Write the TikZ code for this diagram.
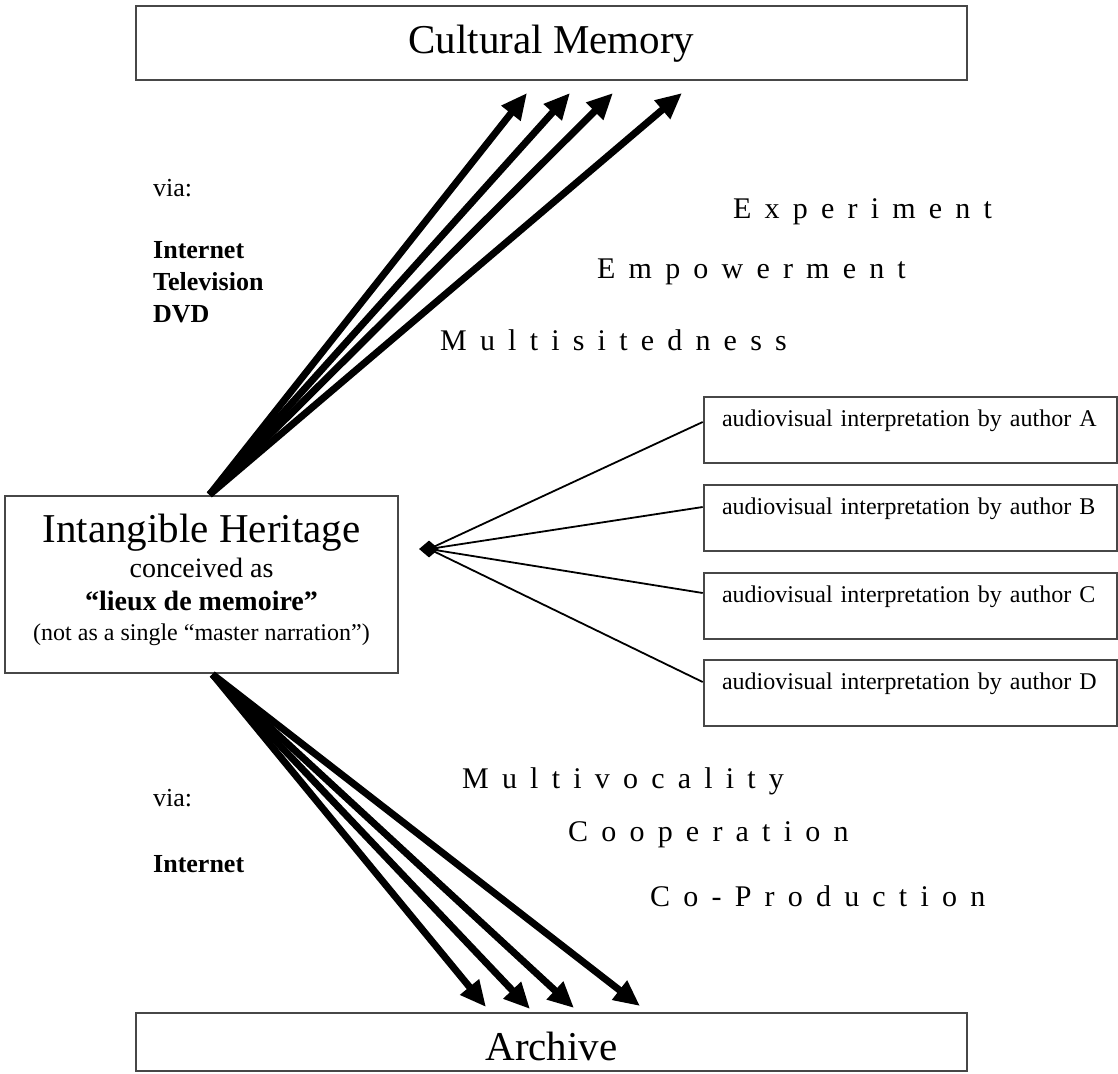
\documentclass[tikz,border=0pt]{standalone}
\usepackage{fontspec}
\setmainfont{Liberation Serif}
\newfontfamily\spacedfont[LetterSpace=44]{Liberation Serif}
\usetikzlibrary{arrows.meta,shapes.geometric}
\begin{document}
\begin{tikzpicture}[x=1pt,y=-1pt,
  box/.style={draw=black!72, line width=2.6pt, inner sep=0pt},
  fat/.style={line width=7pt, -{Triangle[length=26pt,width=23pt]}},
  thinline/.style={line width=1.8pt},
  spaced/.style={anchor=base west, inner sep=0pt, font=\spacedfont\fontsize{30}{36}\selectfont},
  plain/.style={anchor=base west, inner sep=0pt, font=\fontsize{26}{30}\selectfont},
  boldlbl/.style={anchor=base west, inner sep=0pt, font=\bfseries\fontsize{26}{30}\selectfont},
  auth/.style={box, minimum width=413pt, minimum height=66pt, text width=377pt, align=left,
    inner xsep=18pt, inner ysep=0pt, text height=14pt, text depth=22pt, font=\fontsize{24}{28}\selectfont},
  ctr/.style={anchor=base, inner sep=0pt}
  ]
\useasboundingbox (0,0) rectangle (1118,1073);

% main boxes
\node[box, minimum width=831pt, minimum height=74pt, text height=30pt, text depth=10pt,
  font=\fontsize{41}{48}\selectfont] (cm) at (551.5,43) {Cultural Memory};
\node[box, minimum width=831pt, minimum height=58pt, text height=38pt, text depth=2pt,
  font=\fontsize{41}{48}\selectfont] (ar) at (551.5,1042) {Archive};

\node[box, minimum width=393pt, minimum height=177pt] (ih) at (201.5,584.5) {};
\node[ctr, font=\fontsize{41}{48}\selectfont] (ih1) at (201.5,542) {Intangible Heritage};
\node[ctr, font=\fontsize{28}{32}\selectfont] (ih2) at (201.5,577) {conceived as};
\node[ctr, font=\bfseries\fontsize{28}{32}\selectfont] (ih3) at (201.5,610) {“lieux de memoire”};
\node[ctr, font=\fontsize{24}{28}\selectfont] (ih4) at (201.5,640) {(not as a single “master narration”)};

% author boxes
\node[auth] (a) at (910.5,430) {audiovisual interpretation by author A};
\node[auth] (b) at (910.5,518) {audiovisual interpretation by author B};
\node[auth] (c) at (910.5,606) {audiovisual interpretation by author C};
\node[auth] (d) at (910.5,693) {audiovisual interpretation by author D};

\node[diamond, fill=black, minimum width=20pt, minimum height=17pt, inner sep=0pt] (hub) at (429,549) {};
\draw[thinline] ([yshift=8pt]a.west) -- (hub.center);
\draw[thinline] ([yshift=11pt]b.west) -- (hub.center);
\draw[thinline] ([yshift=13pt]c.west) -- (hub.center);
\draw[thinline] ([yshift=11pt]d.west) -- (hub.center);

% arrow end points
\coordinate (t1) at (527,93);
\coordinate (t2) at (570,93);
\coordinate (t3) at (613,93);
\coordinate (t4) at (682,93);
\coordinate (b1) at (486,1007);
\coordinate (b2) at (530,1009);
\coordinate (b3) at (574,1008);
\coordinate (b4) at (640,1006);

\draw[fat] ([xshift=8pt]ih.north) -- (t1);
\draw[fat] ([xshift=8pt]ih.north) -- (t2);
\draw[fat] ([xshift=8pt]ih.north) -- (t3);
\draw[fat] ([xshift=8pt]ih.north) -- (t4);
\draw[fat] ([xshift=11pt]ih.south) -- (b1);
\draw[fat] ([xshift=11pt]ih.south) -- (b2);
\draw[fat] ([xshift=11pt]ih.south) -- (b3);
\draw[fat] ([xshift=11pt]ih.south) -- (b4);

% side labels
\node[plain] (via1) at (153,196) {via:};
\node[boldlbl] (m1) at (153,258) {Internet};
\node[boldlbl] (m2) at (153,290) {Television};
\node[boldlbl] (m3) at (153,322) {DVD};
\node[plain] (via2) at (153,806) {via:};
\node[boldlbl] (m4) at (153,872) {Internet};

% spaced keywords
\node[spaced] (exp) at (733,218) {Experiment};
\node[spaced] (emp) at (597,278) {Empowerment};
\node[spaced] (mus) at (440,350) {Multisitedness};
\node[spaced] (muv) at (462,788) {Multivocality};
\node[spaced] (coo) at (568,841) {Cooperation};
\node[spaced] (cop) at (650,906) {Co-Production};
\end{tikzpicture}
\end{document}
